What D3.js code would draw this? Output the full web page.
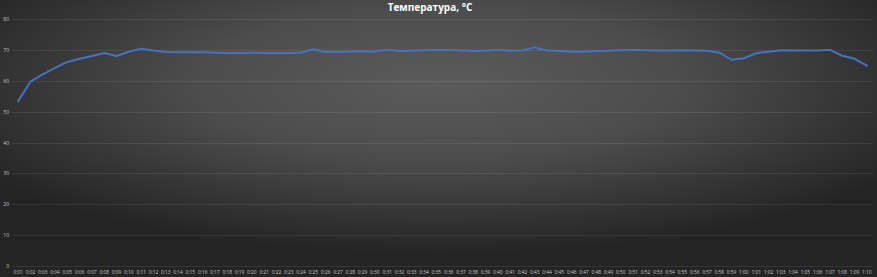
<!DOCTYPE html>
<html>
<head>
<meta charset="utf-8">
<script src="https://cdn.jsdelivr.net/npm/d3@7"></script>
<style>
  body { margin: 0; background: #2a2a2a; }
  svg { display: block; }
</style>
</head>
<body>
<div class="chart"></div>
<script>
var times = [];
for (var m = 1; m <= 70; m++) {
  times.push(Math.floor(m / 60) + ":" + String(m % 60).padStart(2, "0"));
}

var temps = [
  53.4, 59.7, 62.1, 64.2, 66.1, 67.1, 68.0, 69.0, 68.0, 69.4,
  70.4, 69.8, 69.3, 69.2, 69.2, 69.2, 69.1, 69.0, 69.0, 69.1,
  69.0, 69.0, 69.0, 69.1, 70.2, 69.3, 69.3, 69.5, 69.5, 69.5,
  70.0, 69.6, 69.7, 69.9, 70.0, 70.0, 69.8, 69.6, 69.7, 70.0,
  69.7, 69.8, 70.8, 69.8, 69.6, 69.4, 69.4, 69.6, 69.7, 69.9,
  70.0, 69.9, 69.8, 69.8, 69.9, 69.8, 69.7, 69.1, 66.8, 67.3,
  68.9, 69.4, 69.9, 69.8, 69.8, 69.8, 70.0, 68.1, 67.1, 64.9
];

var yTicks = [0, 10, 20, 30, 40, 50, 60, 70, 80];

var width = 877, height = 277;

var svg = d3.select(".chart").append("svg")
  .attr("width", width)
  .attr("height", height);

var grad = svg.append("defs").append("radialGradient")
  .attr("id", "bg")
  .attr("cx", "50%").attr("cy", "30%")
  .attr("r", "62%");
grad.append("stop").attr("offset", "0%").attr("stop-color", "#5b5b5b");
grad.append("stop").attr("offset", "45%").attr("stop-color", "#4c4c4c");
grad.append("stop").attr("offset", "100%").attr("stop-color", "#242424");

svg.append("rect")
  .attr("width", width).attr("height", height)
  .attr("fill", "url(#bg)");

var x = d3.scaleBand().domain(times).range([12, 873]);
var y = d3.scaleLinear().domain([0, 80]).range([266, 19]);

// grid
svg.append("g").selectAll("line")
  .data(yTicks)
  .join("line")
  .attr("x1", 12).attr("x2", 873)
  .attr("y1", function(d) { return Math.round(y(d)) + 0.5; })
  .attr("y2", function(d) { return Math.round(y(d)) + 0.5; })
  .attr("stroke", "#ffffff")
  .attr("stroke-opacity", 0.08)
  .attr("stroke-width", 1);

// y labels
svg.append("g").selectAll("text")
  .data(yTicks)
  .join("text")
  .attr("x", 9)
  .attr("y", function(d) { return y(d) + 2; })
  .attr("text-anchor", "end")
  .attr("fill", "#c8c8c8")
  .attr("font-family", "Open Sans, sans-serif")
  .attr("font-size", 5)
  .text(function(d) { return d; });

// x labels
svg.append("g").selectAll("text")
  .data(times)
  .join("text")
  .attr("x", function(d) { return x(d) + x.bandwidth() / 2; })
  .attr("y", 274)
  .attr("text-anchor", "middle")
  .attr("fill", "#c8c8c8")
  .attr("font-family", "Open Sans, sans-serif")
  .attr("font-size", 4.8)
  .text(function(d) { return d; });

var line = d3.line()
  .x(function(d, i) { return x(times[i]) + x.bandwidth() / 2; })
  .y(function(d) { return y(d); });

svg.append("path")
  .datum(temps)
  .attr("d", line)
  .attr("fill", "none")
  .attr("stroke", "#4672c4")
  .attr("stroke-width", 2)
  .attr("stroke-linejoin", "round")
  .attr("stroke-linecap", "round");

svg.append("text")
  .attr("x", 430)
  .attr("y", 10.5)
  .attr("text-anchor", "middle")
  .attr("fill", "#ffffff")
  .attr("font-family", "Open Sans, sans-serif")
  .attr("font-weight", "bold")
  .attr("font-size", 10)
  .text("Температура, °C");
</script>
</body>
</html>
